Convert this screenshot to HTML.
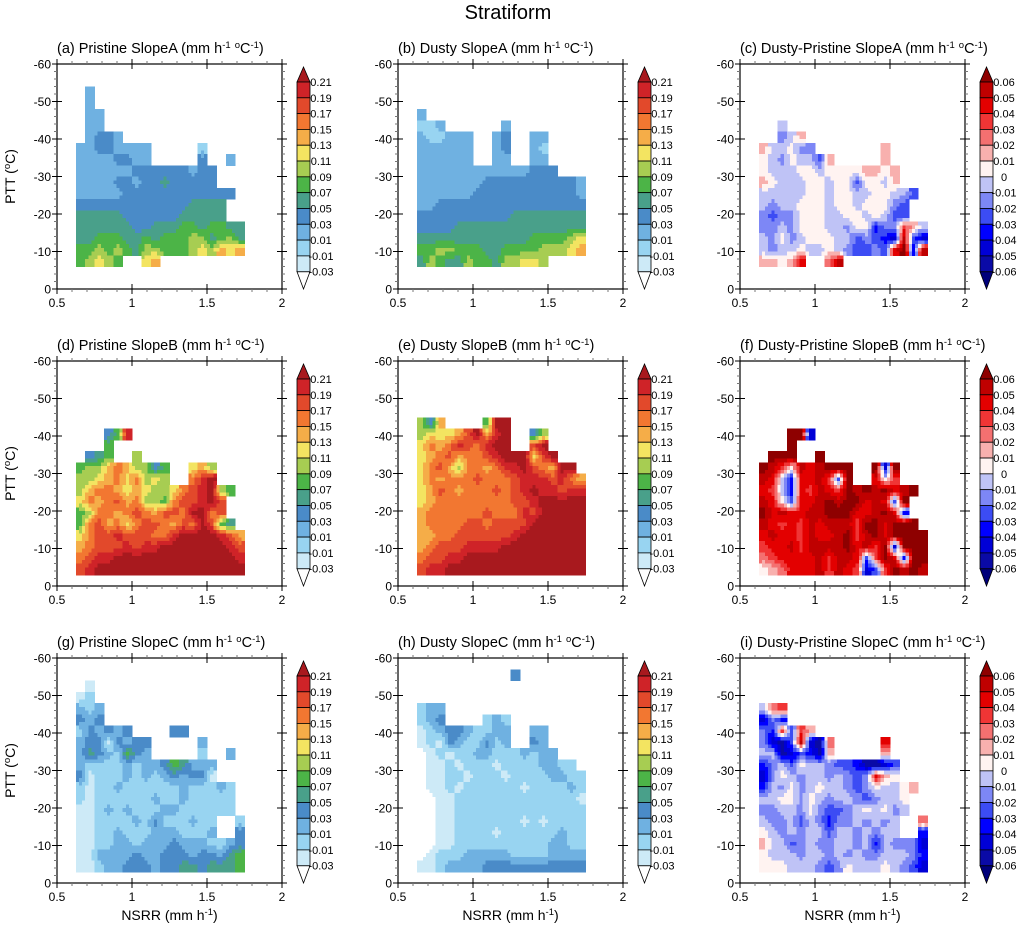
<!DOCTYPE html>
<html><head><meta charset="utf-8"><style>
html,body{margin:0;padding:0;background:#fff;}
svg{display:block;font-family:"Liberation Sans",sans-serif;}
</style></head><body>
<svg id="fig" width="1017" height="934" viewBox="0 0 1017 934" xmlns="http://www.w3.org/2000/svg">
<text x="508" y="19" font-size="20" text-anchor="middle">Stratiform</text>
</svg>
<script>
// ---- data: level codes per grid cell (hex digit = contour level index, '.' = missing) ----
const levelsAbs = [-0.03,-0.01,0.01,0.03,0.05,0.07,0.09,0.11,0.13,0.15,0.17,0.19,0.21];
const levelsDiff = [-0.06,-0.05,-0.04,-0.03,-0.02,-0.01,0,0.01,0.02,0.03,0.04,0.05,0.06];
const xTicks = [0.5,1,1.5,2];
const xTickLabels = ["0.5","1","1.5","2"];
const yTicks = [-60,-50,-40,-30,-20,-10,0];
const yTickLabels = ["-60","-50","-40","-30","-20","-10","0"];
const panelTitles = ["(a) Pristine SlopeA","(b) Dusty SlopeA","(c) Dusty-Pristine SlopeA",
 "(d) Pristine SlopeB","(e) Dusty SlopeB","(f) Dusty-Pristine SlopeB",
 "(g) Pristine SlopeC","(h) Dusty SlopeC","(i) Dusty-Pristine SlopeC"];
const gridPristineA = [
"..................",".3................",".3................",".33...............",".33...............",
".3443.............","33443333.....2....","33334433.....4..3.","333333444444344...","333344344544444...",
"33333444444444444.","4444444444445555..","5555544444455555..","555555445556656655","556665565666775675",
"667676577666787989","67876..89.........",".................."];
const gridDustyA = [
"..................","..................","..................","3.................","223......3........",
"322333..34..33....","333333..34..32....","333333..33..33....","333333333333444...","333333344444444443",
"333333444444444443","334444444444444444","444444444455555555","444455555555555555","555555555555666678",
"667766655666677789","57655766577887....",".................."];
const gridDiffA = [
"..................","..................","..................","..................","..6...............",
"..568.............","866755.......8....","76576648.....8....","766677677778878...","876667767747768...",
"66666776776677664.","6566777677677754..","5455777667767644..","556577766577355A86","657567776645432C42",
"65667667654454BD3C","8878B..9C.........",".................."];
const gridPristineB = [
"..................","..................","..................","..................","..................",
"...46C............","...6..............",".456..7...........","6779A97746..897...","7789A8A787..ACD...",
"79AA9898778ABCD76.","8A9AB9A776ABBCDB..","67AA9ABA9BBADDAB..","6AB9A8ABBA9BADB65.","8ABBCBBBAACDDDDCB9",
"9ABBBCBCCDDDDDDDCB","ABCCDDDDDDDDDDDDDC","BCDDDDDDDDDDDDDDDD"];
const gridDustyB = [
"..................","..................","..................","..................","749....6DD........",
"78889BD9CD..47....","8A9ACBACDD..BD....","89AB9AABCDDD8BD...","8AB97AA9ACCDBA9DD.","8A9AAABAAABCCCBCA9",
"89BA9AAABABCDCCBCC","89AAAAAAAABBCDDDDD","9AAAAAABAAACBDDDDD","9AAAABBABBBBDDDDDD","99AABBBBBBCDDDDDDD",
"9ABBBCCCCDDDDDDDDD","ABBCCDDDDDDDDDDDDD","BCCDDDDDDDDDDDDDDD"];
const gridDiffB = [
"..................","..................","..................","..................","..................",
"...DD2............","...D..............",".DDD..D...........","DCA7CBCDDD..D2D...","CB63BBCA4D..B7A...",
"BA63BACBADCDCDBCD.","CB74BBCDCDDBCB4D..","DBCBBCCDDDBBCDB3..","CBABACBCCCADDBDDD.","BCBBACBBCDACDBDDDD",
"ABBCACCCCDBCAD2DDD","9ABBBBCACCB4ADB3DD","789BBBCACBA24ADCDC"];
const gridPristineC = [
"..................",".1................","12................","323...............","434...............",
"243434....44......","34414344.....3....","35432643.....2..3.","322223233465333...","412223232343441...",
"21223222222322232.","21222222322322222.","11232322233222222.","112222324222322..2","112232223332223..4",
"112233233343332234","113333433444344356","112334443445545556"];
const gridDustyC = [
"..........4.......","..................","..................","233...............","234....232........",
"1234432233..33....","1214322423..43....","012122332223233...","01121222122223322.","011221222122223322",
"011212222221222232","001122222222222221","001122222222222222","001122222221212222","001122221222222322",
"001122222222223322","012223333322223333","112333344444444444"];
const gridDiffC = [
"..................","..................","..................","69A...............","253...............",
"53A4A8............","5214C219.....B....","66124318.....8....","356476654431124...","257656656545B87...",
"36575676654576678.","6677576566545667..","5566575445676756..","655646535565656..9","765656646656566..3",
"866456556656365552","766656656565566653","777666545766676542"];

const panelGrids = [gridPristineA,gridDustyA,gridDiffA,gridPristineB,gridDustyB,gridDiffB,gridPristineC,gridDustyC,gridDiffC];
const colorsAbs = ["#ffffff","#cdeaf7","#98d4f1","#6fb1e1","#4a8bc8","#49a08a","#4cb447","#a7cd52","#f3e461","#f5ad48","#f27731","#e2492b","#cf2328","#a8191e"];
const colorsDiff = ["#00007a","#0a0aa6","#0000d6","#0000ff","#3c4cf4","#7d87f6","#bfc3f6","#fff3f1","#f8b0ae","#f47070","#f03535","#e30000","#bf0000","#8e0000"];

// ---- layout ----
const svg = document.getElementById('fig');
const NS = "http://www.w3.org/2000/svg";
const PW = 225, PH = 225;
const colX = [57,398,740];
const rowY = [64,361,658];
const gridX0 = 0.625, gridDX = 0.0625, gridY0 = -57, gridDY = 3;
const SUB = 3;
function mk(tag, attrs, parent){
  const e = document.createElementNS(NS, tag);
  for (const k in attrs) e.setAttribute(k, attrs[k]);
  (parent||svg).appendChild(e);
  return e;
}
function sx(v, px){ return px + (v-0.5)/1.5*PW; }
function sy(v, py){ return py + (v+60)/60*PH; }
function cellVal(grid, r, c){
  if (r<0 || r>=grid.length) return null;
  const row = grid[r];
  if (c<0 || c>=row.length) return null;
  const ch = row[c];
  if (ch==='.') return null;
  return parseInt(ch,16);
}

for (let p=0;p<9;p++){
  const ci = p%3, ri = Math.floor(p/3);
  const px = colX[ci], py = rowY[ri];
  const isDiff = ci===2;
  const cols = isDiff ? colorsDiff : colorsAbs;
  const g = mk('g',{});
  
  
  const cg = mk('g',{'shape-rendering':'crispEdges'}, g);
  
  
  const grid = panelGrids[p];
  for (let r=0;r<grid.length;r++){
    for (let c=0;c<grid[r].length;c++){
      const own = cellVal(grid,r,c);
      if (own===null) continue;
      for (let sr=0; sr<SUB; sr++){
        for (let sc=0; sc<SUB; sc++){
          // position relative to cell centers
          const fy = (sr+0.5)/SUB - 0.5, fx = (sc+0.5)/SUB - 0.5;
          const r2 = fy<0 ? r-1 : r+1, c2 = fx<0 ? c-1 : c+1;
          const wy = Math.abs(fy), wx = Math.abs(fx);
          let vA = own;
          let vB = cellVal(grid,r,c2); if (vB===null) vB = own;
          let vC = cellVal(grid,r2,c); if (vC===null) vC = own;
          let vD = cellVal(grid,r2,c2); if (vD===null) vD = own;
          const v = (1-wy)*((1-wx)*vA + wx*vB) + wy*((1-wx)*vC + wx*vD);
          const lev = Math.max(0, Math.min(13, Math.round(v)));
          const x0 = sx(gridX0+(c+sc/SUB)*gridDX, px), x1 = sx(gridX0+(c+(sc+1)/SUB)*gridDX, px);
          const y0 = sy(gridY0+(r+sr/SUB)*gridDY, py), y1 = sy(gridY0+(r+(sr+1)/SUB)*gridDY, py);
          const cell = mk('rect',{x:x0.toFixed(2),y:y0.toFixed(2),width:(x1-x0+0.5).toFixed(2),height:(y1-y0+0.5).toFixed(2),fill:cols[lev]}, cg);
          
          
        }
      }
    }
  }
  // frame
  const frame = mk('rect',{x:px,y:py,width:PW,height:PH,fill:'none',stroke:'#000','stroke-width':1.2}, g);
  
  
  // y ticks
  for (let v=-60; v<=0; v+=2){
    const y = sy(v,py);
    const major = v%10===0;
    const len = major?5:3;
    mk('line',{x1:px-len,y1:y,x2:px+(major?5:0),y2:y,stroke:major?'#000':'#777','stroke-width':1}, g);
    mk('line',{x1:px+PW-(major?5:0),y1:y,x2:px+PW+len,y2:y,stroke:major?'#000':'#777','stroke-width':1}, g);
  }
  for (let i=0;i<yTicks.length;i++){
    const t = mk('text',{x:px-6,y:sy(yTicks[i],py)+4.5,'font-size':12,'text-anchor':'end'}, g);
    t.textContent = yTickLabels[i];
    
    
  }
  // x ticks
  for (let k=5;k<=20;k++){
    const v = k/10, x = sx(v,px);
    const major = (k%5===0);
    const len = major?5:3;
    mk('line',{x1:x,y1:py+PH-(major?5:0),x2:x,y2:py+PH+len,stroke:major?'#000':'#777','stroke-width':1}, g);
    mk('line',{x1:x,y1:py-len,x2:x,y2:py+(major?5:0),stroke:major?'#000':'#777','stroke-width':1}, g);
  }
  for (let i=0;i<xTicks.length;i++){
    const t = mk('text',{x:sx(xTicks[i],px),y:py+PH+18,'font-size':12,'text-anchor':'middle'}, g);
    t.textContent = xTickLabels[i];
    
    
  }
  // title
  const tt = mk('text',{x:px,y:py-11,'font-size':14.5}, g);
  tt.innerHTML = panelTitles[p]+' (mm h<tspan dy="-5" font-size="9.5">-1</tspan><tspan dy="5"> </tspan><tspan dy="-5" font-size="9.5">o</tspan><tspan dy="5">C</tspan><tspan dy="-5" font-size="9.5">-1</tspan><tspan dy="5">)</tspan>';
  
  
  // axis titles
  if (ci===0){
    const yt = mk('text',{x:0,y:0,'font-size':14,'text-anchor':'middle',transform:'translate(15,'+(py+PH/2)+') rotate(-90)'}, g);
    yt.innerHTML = 'PTT (<tspan dy="-5" font-size="9.5">o</tspan><tspan dy="5">C)</tspan>';
    
    
  }
  if (ri===2){
    const xt = mk('text',{x:px+PW/2,y:py+PH+37,'font-size':14,'text-anchor':'middle'}, g);
    xt.innerHTML = 'NSRR (mm h<tspan dy="-5" font-size="9.5">-1</tspan><tspan dy="5">)</tspan>';
    
    
  }
  // colorbar
  const cb = mk('g',{}, g);
  
  
  const bx = px+240, bw = 13, top = py+18, bot = py+207.7;
  const levs = isDiff ? levelsDiff : levelsAbs;
  const nb = levs.length-1, bh = (bot-top)/nb;
  mk('polygon',{points:bx+','+top+' '+(bx+bw)+','+top+' '+(bx+bw/2)+','+(top-15),fill:cols[13],stroke:'#000','stroke-width':0.8}, cb);
  mk('polygon',{points:bx+','+bot+' '+(bx+bw)+','+bot+' '+(bx+bw/2)+','+(py+PH),fill:cols[0],stroke:'#000','stroke-width':0.8}, cb);
  for (let k=0;k<nb;k++){
    mk('rect',{x:bx,y:top+k*bh,width:bw,height:bh,fill:cols[12-k],stroke:'#000','stroke-width':0.8}, cb);
  }
  for (let k=0;k<levs.length;k++){
    const v = levs[levs.length-1-k];
    const lbl = mk('text',{x:bx+bw+11,y:top+k*bh+4,'font-size':11,'text-anchor':'middle'}, cb);
    lbl.textContent = (v===0)?'0':v.toFixed(2);
    
    
  }
}
</script>
</body></html>
